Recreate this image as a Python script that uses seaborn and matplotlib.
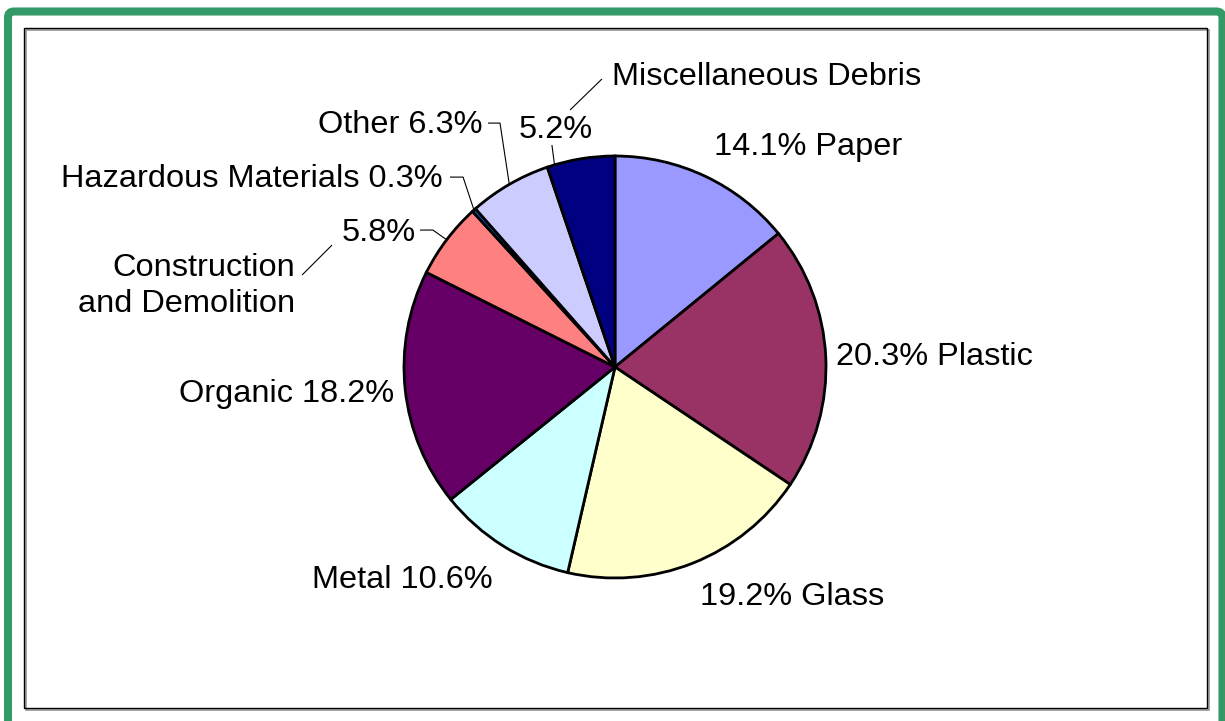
import matplotlib
matplotlib.use("Agg")
import numpy as np
import matplotlib.pyplot as plt
from matplotlib.patches import FancyBboxPatch, Rectangle
from matplotlib.transforms import IdentityTransform
import seaborn as sns

# ---- data -------------------------------------------------------------
categories = ["Paper", "Plastic", "Glass", "Metal", "Organic",
              "Construction\nand Demolition", "Hazardous Materials",
              "Other", "Miscellaneous Debris"]
shares = [14.1, 20.3, 19.2, 10.6, 18.2, 5.8, 0.3, 6.3, 5.2]
slice_colors = ["#9999FF", "#993366", "#FFFFCC", "#CCFFFF", "#660066",
                "#FF8080", "#0066CC", "#CCCCFF", "#000080"]

# ---- style ------------------------------------------------------------
sns.set_theme(style="white")
plt.rcParams["font.family"] = ["Liberation Sans", "DejaVu Sans"]
FS = 23.4
W, H = 1225, 721

fig = plt.figure(figsize=(W / 100, H / 100), dpi=100)
fig.patch.set_facecolor("white")

# green outer frame (pixel coordinates)
frame = FancyBboxPatch((8, H - 728), 1222.5 - 8, 728 - 11.5,
                       boxstyle="round,pad=0,rounding_size=6",
                       transform=IdentityTransform(), fill=False,
                       edgecolor="#339966", linewidth=5.8)
fig.add_artist(frame)

# chart area border with a light shadow
shadow = Rectangle((25.5, H - 709.5), 1208.5 - 25.5, 709.5 - 29.5,
                   transform=IdentityTransform(), fill=False,
                   edgecolor="#8c8c8c", linewidth=1.1)
border = Rectangle((24, H - 708), 1207 - 24, 708 - 28,
                   transform=IdentityTransform(), fill=False,
                   edgecolor="black", linewidth=1.0)
fig.add_artist(shadow)
fig.add_artist(border)

# ---- pie --------------------------------------------------------------
ax = fig.add_axes([0, 0, 1, 1])
palette = sns.color_palette(slice_colors)
wedges, _ = ax.pie(shares, colors=palette, startangle=90, counterclock=False,
                   radius=1, center=(0, 0),
                   wedgeprops=dict(edgecolor="black", linewidth=2.0,
                                   joinstyle="miter"))

# map the figure so that one data unit equals the pie radius in pixels
R_PX, CX, CY = 211, 615, 367
ax.set_xlim(-CX / R_PX, (W - CX) / R_PX)
ax.set_ylim(-(H - CY) / R_PX, CY / R_PX)
ax.set_aspect("auto")
ax.axis("off")


def pct(v):
    return f"{v:.1f}%"


def edge_point(w, frac=0.5):
    ang = np.deg2rad(w.theta1 + frac * (w.theta2 - w.theta1))
    return np.cos(ang) * w.r, np.sin(ang) * w.r


def leader(points):
    xs, ys = zip(*points)
    ax.plot(xs, ys, color="black", lw=0.8, solid_capstyle="butt")


txt = dict(fontsize=FS, color="black", va="baseline")
v = dict(zip(categories, shares))
w = dict(zip(categories, wedges))

# labels placed beside their slices
ax.text(0.915, 1.005, f"{pct(v['Paper'])} Paper", ha="center", **txt)
ax.text(1.512, 0.010, f"{pct(v['Plastic'])} Plastic", ha="center", **txt)
ax.text(0.840, -1.128, f"{pct(v['Glass'])} Glass", ha="center", **txt)
ax.text(-1.007, -1.047, f"Metal {pct(v['Metal'])}", ha="center", **txt)
ax.text(-1.555, -0.166, f"Organic {pct(v['Organic'])}", ha="center", **txt)

# construction and demolition
cd = "Construction\nand Demolition"
for line, y in zip(cd.split("\n"), (0.431, 0.261)):
    ax.text(-1.517, y, line, ha="right", **txt)
leader([(-1.483, 0.436), (-1.341, 0.578)])
ax.text(-1.118, 0.597, pct(v[cd]), ha="center", **txt)
leader([(-0.924, 0.649), (-0.863, 0.649), edge_point(w[cd])])

# hazardous materials
hz = "Hazardous Materials"
ax.text(-0.815, 0.853, f"{hz} {pct(v[hz])}", ha="right", **txt)
leader([(-0.782, 0.900), (-0.720, 0.900), edge_point(w[hz])])

# other
ax.text(-0.626, 1.109, f"Other {pct(v['Other'])}", ha="right", **txt)
leader([(-0.602, 1.156), (-0.545, 1.156), edge_point(w["Other"])])

# miscellaneous debris
md = "Miscellaneous Debris"
ax.text(-0.014, 1.336, md, ha="left", **txt)
leader([(-0.213, 1.218), (-0.062, 1.365)])
ax.text(-0.280, 1.085, pct(v[md]), ha="center", **txt)
leader([(-0.299, 1.052), edge_point(w[md], 0.89)])

fig.savefig("out.png", dpi=100, facecolor="white")
